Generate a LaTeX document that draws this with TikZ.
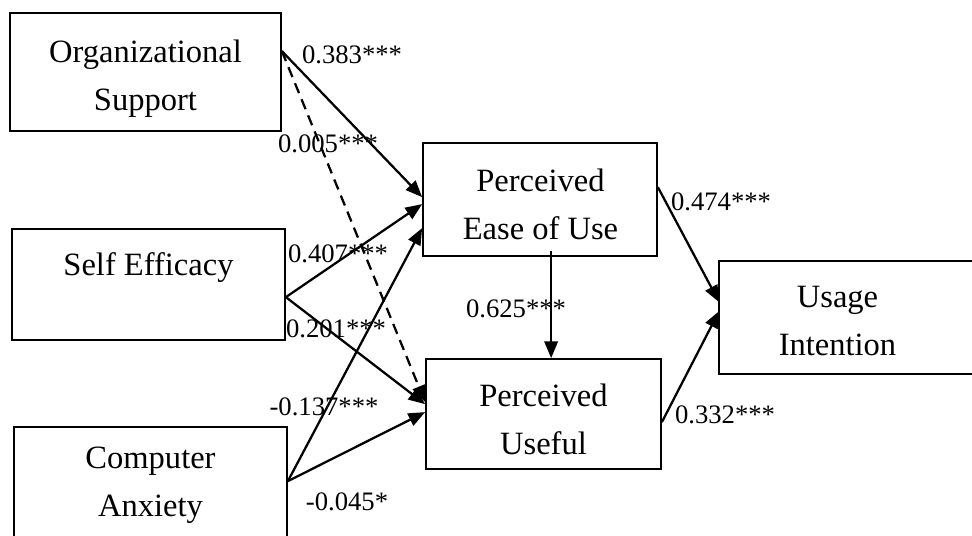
\documentclass[tikz,border=0pt]{standalone}
\usepackage{fontspec}
\setmainfont{Liberation Serif}
\usetikzlibrary{arrows.meta,calc}
\begin{document}
\begin{tikzpicture}[x=0.75pt,y=-0.75pt,
  box/.style={draw,line width=1.3pt,rectangle,inner sep=0pt},
  boxtext/.style={align=center,inner sep=0pt,font=\fontsize{24.4pt}{36pt}\selectfont},
  lab/.style={anchor=base,inner sep=0pt,font=\fontsize{20pt}{24pt}\selectfont},
  arr/.style={line width=1.7pt,-{Triangle[length=12.5pt,width=10pt]}},
  darr/.style={arr,dash pattern=on 8pt off 5pt}]
\useasboundingbox (0,0) rectangle (972,536);
\clip (0,0) rectangle (972,536);
% boxes
\node[box,minimum width=203.25pt,minimum height=88.5pt] (org) at (145.5,72) {};
\node[box,minimum width=204.75pt,minimum height=83.25pt] (se) at (148.5,284.5) {};
\node[box,minimum width=204.75pt,minimum height=97.5pt] (ca) at (150.5,492) {};
\node[box,minimum width=175.5pt,minimum height=84.75pt] (peou) at (540,199.5) {};
\node[box,minimum width=176.25pt,minimum height=82.5pt] (pu) at (543.5,414) {};
\node[box,minimum width=210.75pt,minimum height=84.75pt] (ui) at (859.5,317.5) {};
% texts
\node[boxtext] (orgT) at (145.5,78.3) {Organizational\\Support};
\node[boxtext] (seT) at (148.5,267.3) {Self Efficacy};
\node[boxtext] (caT) at (150.5,485.5) {Computer\\Anxiety};
\node[boxtext] (peouT) at (540.5,204.8) {Perceived\\Ease of Use};
\node[boxtext] (puT) at (543.5,419.8) {Perceived\\Useful};
\node[boxtext] (uiT) at (837.5,321.5) {Usage\\Intention};
% connectors
\draw[arr] ($(org.north east)+(0,39)$) -- ($(peou.north west)+(0,55)$);
\draw[darr] ($(org.north east)+(0,39)$) -- ($(pu.north west)+(0,44)$);
\draw[arr] ($(se.north east)+(0,69)$) -- ($(peou.north west)+(0,62)$);
\draw[arr] ($(se.north east)+(0,69)$) -- ($(pu.north west)+(0,46)$);
\draw[arr] ($(ca.north east)+(0,55)$) -- ($(peou.north west)+(0,86)$);
\draw[arr] ($(ca.north east)+(0,55)$) -- ($(pu.north west)+(0,54)$);
\draw[arr] ($(peou.south west)+(129,-6)$) -- ($(pu.north west)+(126,0)$);
\draw[arr] ($(peou.north east)+(0,45)$) -- ($(ui.north west)+(1,42)$);
\draw[arr] ($(pu.north east)+(0,64)$) -- ($(ui.north west)+(1,51)$);
% labels
\node[lab] (l1) at (352,63) {0.383***};
\node[lab] (l2) at (328,152) {0.005***};
\node[lab] (l3) at (338,262) {0.407***};
\node[lab] (l4) at (336,337) {0.201***};
\node[lab] (l5) at (324,415) {-0.137***};
\node[lab] (l6) at (347,510) {-0.045*};
\node[lab] (l7) at (516,317) {0.625***};
\node[lab] (l8) at (721,210) {0.474***};
\node[lab] (l9) at (725,423) {0.332***};
\end{tikzpicture}
\end{document}
